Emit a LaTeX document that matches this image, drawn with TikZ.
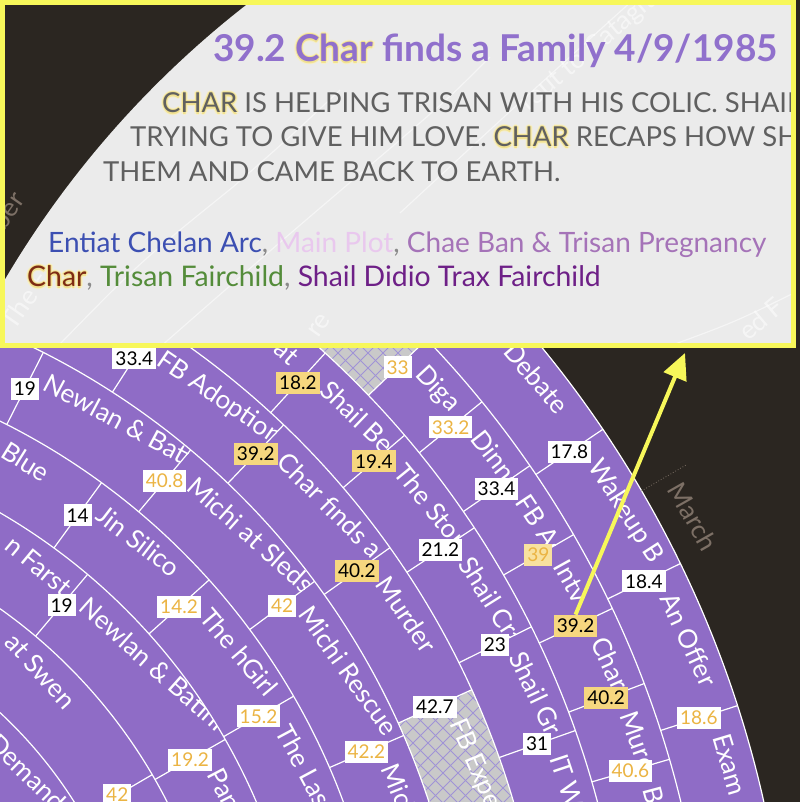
\documentclass[tikz,border=0pt]{standalone}
\usepackage{fontspec}
\setmainfont{Lato}
\usetikzlibrary{arrows.meta}
\definecolor{darkbg}{HTML}{2B2621}
\definecolor{chartpurple}{HTML}{8F6CC6}
\definecolor{hatchgray}{HTML}{C9C9C9}
\definecolor{hatchline}{HTML}{A093D6}
\definecolor{numorange}{HTML}{EBB443}
\definecolor{numyellow}{HTML}{F6D77F}
\definecolor{tipyellow}{HTML}{F7F75A}
\definecolor{tipbg}{HTML}{EBEBEB}
\definecolor{titlepurple}{HTML}{9070CC}
\definecolor{bodygray}{HTML}{606060}
\definecolor{legA}{HTML}{3C4FB2}
\definecolor{legB}{HTML}{E9C8EE}
\definecolor{legC}{HTML}{A573B8}
\definecolor{legD}{HTML}{7E2C14}
\definecolor{legE}{HTML}{548C3A}
\definecolor{legF}{HTML}{6E2087}
\definecolor{commagray}{HTML}{8A8A8A}
\definecolor{glowin}{HTML}{F1E190}
\definecolor{glowout}{HTML}{F6EFCB}
\definecolor{monthgray}{HTML}{7D7066}
\newcommand{\gl}[4]{\makebox[0pt][l]{\kern#1\raisebox{#2}{\textcolor{#3}{#4}}}}
\newcommand{\glowword}[2]{%
\gl{2.2pt}{0pt}{glowout}{#2}\gl{-2.2pt}{0pt}{glowout}{#2}\gl{0pt}{2.2pt}{glowout}{#2}\gl{0pt}{-2.2pt}{glowout}{#2}%
\gl{1.6pt}{1.6pt}{glowout}{#2}\gl{-1.6pt}{1.6pt}{glowout}{#2}\gl{1.6pt}{-1.6pt}{glowout}{#2}\gl{-1.6pt}{-1.6pt}{glowout}{#2}%
\gl{1.1pt}{0pt}{glowin}{#2}\gl{-1.1pt}{0pt}{glowin}{#2}\gl{0pt}{1.1pt}{glowin}{#2}\gl{0pt}{-1.1pt}{glowin}{#2}%
\textcolor{#1}{#2}}
\tikzset{
 ringline/.style={white,line width=1.2pt},
 sepline/.style={white,line width=1.2pt},
 evtext/.style={text=white,font=\fontsize{26}{26}\selectfont,inner sep=0pt},
 numbox/.style={font=\fontsize{19}{19}\selectfont,inner xsep=3pt,inner ysep=0pt,minimum height=22pt,text height=13.5pt,text depth=0pt},
 nbw/.style={numbox,fill=white,text=black},
 nbo/.style={numbox,fill=white,text=numorange},
 nby/.style={numbox,fill=numyellow,text=black},
 nbyo/.style={numbox,fill=numyellow!75!white,text=numorange},
 hatchl/.style={hatchline,line width=0.8pt},
 tiptext/.style={inner sep=0pt,anchor=base west},
 faintline/.style={white,opacity=0.5,line width=1.2pt},
 fainttext/.style={text=white,text opacity=0.55,font=\fontsize{26}{26}\selectfont,inner sep=0pt}
}
\newcommand{\evt}[7]{%
 \begin{scope}
 \clip (#3:#1) -- (#3:#2) arc[start angle=#3,end angle=#4,radius=#2] -- (#4:#1) arc[start angle=#4,end angle=#3,radius=#1] -- cycle;
 \pgfmathsetmacro\evr{(#1+#2)/2+7}
 \pgfmathsetmacro\eva{#3-#5/\evr*57.2958}
 \node[evtext,rotate=\eva-90,anchor=base west] (#7) at (\eva:\evr) {#6};
 \end{scope}}
\newcommand{\sepr}[3]{\draw[sepline] (#1:#2) -- (#1:#3);}
\newcommand{\sector}[4]{(#3:#1) -- (#3:#2) arc[start angle=#3,end angle=#4,radius=#2] -- (#4:#1) arc[start angle=#4,end angle=#3,radius=#1] -- cycle}
\begin{document}
\begin{tikzpicture}[x=1pt,y=1pt]
\useasboundingbox (0,0) rectangle (800,802);
\clip (0,0) rectangle (800,802);
\fill[darkbg] (0,0) rectangle (800,802);
\begin{scope}[shift={(-307,-241)}]
 \fill[chartpurple] (0,0) circle[radius=1097.4];
 % hatched segments
 \begin{scope}
  \clip \sector{935.8}{1016.6}{62}{43.8};
  \fill[hatchgray] (-100,-100) rectangle (1200,1200);
  \foreach \i in {-1500,-1485,...,1500} {\draw[hatchl] (\i,0) -- ++(1500,1500); \draw[hatchl] (\i,1500) -- ++(1500,-1500);}
 \end{scope}
 \begin{scope}
  \clip \sector{774.2}{855.0}{24.4}{8};
  \fill[hatchgray] (-100,-100) rectangle (1200,1200);
  \foreach \i in {-1500,-1485,...,1500} {\draw[hatchl] (\i,0) -- ++(1500,1500); \draw[hatchl] (\i,1500) -- ++(1500,-1500);}
 \end{scope}
 % ring lines
 \foreach \r in {1097.4,1016.6,935.8,855.0,774.2,693.4,612.6,531.8,451.0,370.2} \draw[ringline] (0,0) circle[radius=\r];
 % separators
 \sepr{34.0}{1016.6}{1097.4}\sepr{25.9}{1016.6}{1097.4}\sepr{17.9}{1016.6}{1097.4}
 \sepr{43.8}{935.8}{1016.6}\sepr{39.1}{935.8}{1016.6}\sepr{34.6}{935.8}{1016.6}\sepr{30.0}{935.8}{1016.6}\sepr{25.3}{935.8}{1016.6}\sepr{20.7}{935.8}{1016.6}\sepr{16.2}{935.8}{1016.6}
 \sepr{47.5}{855.0}{935.8}\sepr{40.5}{855.0}{935.8}\sepr{33.4}{855.0}{935.8}\sepr{26.4}{855.0}{935.8}\sepr{19.5}{855.0}{935.8}
 \sepr{57.2}{774.2}{855.0}\sepr{46.3}{774.2}{855.0}\sepr{35.4}{774.2}{855.0}\sepr{24.4}{774.2}{855.0}
 \sepr{63.1}{693.4}{774.2}\sepr{50.0}{693.4}{774.2}\sepr{36.6}{693.4}{774.2}\sepr{23.4}{693.4}{774.2}
 \sepr{53.9}{612.6}{693.4}\sepr{41.9}{612.6}{693.4}\sepr{30.0}{612.6}{693.4}
 \sepr{49.9}{531.8}{612.6}\sepr{29.7}{531.8}{612.6}
 \sepr{30.3}{451.0}{531.8}
 % event texts ring 1
 \node[evtext,rotate=40.5-90,anchor=base west] (tdebate) at (40.5:1064) {Debate};
 \evt{1016.6}{1097.4}{34.0}{25.9}{22}{Wakeup B}{twake}
 \evt{1016.6}{1097.4}{25.9}{17.9}{22}{An Offer}{toffer}
 \evt{1016.6}{1097.4}{17.9}{5}{22}{Exam}{texam}
 % ring 2
 \evt{935.8}{1016.6}{43.8}{39.1}{17}{Diga}{tdiga}
 \evt{935.8}{1016.6}{39.1}{34.6}{21}{Dinne}{tdinn}
 \evt{935.8}{1016.6}{34.6}{30.0}{21}{FB Ad}{tfba}
 \evt{935.8}{1016.6}{30.0}{25.3}{17}{Intv}{tintv}
 \evt{935.8}{1016.6}{25.3}{20.7}{21}{Char fi}{tchar}
 \evt{935.8}{1016.6}{20.7}{16.2}{21}{Murd}{tmur}
 \evt{935.8}{1016.6}{16.2}{5}{21}{B}{tb}
 % ring 3
 \node[evtext,rotate=48.6-90,anchor=base east] (tat) at (48.6:902) {at};
 \evt{855.0}{935.8}{47.5}{40.5}{21}{Shail Bea}{tshailbe}
 \evt{855.0}{935.8}{40.5}{33.4}{21}{The Stor}{tsto}
 \evt{855.0}{935.8}{33.4}{26.4}{21}{Shail Cra}{tshailcr}
 \evt{855.0}{935.8}{26.4}{19.5}{17}{Shail Gr}{tshailg}
 \evt{855.0}{935.8}{19.5}{5}{17}{IT Wo}{titw}
 % ring 4
 \evt{774.2}{855.0}{57.2}{46.3}{21}{FB Adoption}{tfbadopt}
 \evt{774.2}{855.0}{46.3}{35.4}{21}{Char finds a F}{tcharfinds}
 \evt{774.2}{855.0}{35.4}{24.4}{21}{Murder}{tmurder}
 \evt{774.2}{855.0}{24.4}{8}{21}{FB Expe}{tfbexpe}
 % ring 5
 \evt{693.4}{774.2}{63.1}{50.0}{15}{Newlan \& Bati}{tnewlan}
 \evt{693.4}{774.2}{50.0}{36.6}{21}{Michi at Sleds}{tsleds}
 \evt{693.4}{774.2}{36.6}{23.4}{16}{Michi Rescue}{trescue}
 \evt{693.4}{774.2}{23.4}{8}{21}{Michi}{tmichi}
 % ring 6
 \node[evtext,rotate=58.0-90,anchor=base east] (tblue) at (58.0:660) {Blue};
 \evt{612.6}{693.4}{53.9}{41.9}{15}{Jin Silico}{tjin}
 \evt{612.6}{693.4}{41.9}{30.0}{21}{The hGirl}{thgirl}
 \evt{612.6}{693.4}{30.0}{10}{21}{The Last}{tlast}
 % ring 7
 \node[evtext,rotate=50.3-90,anchor=base east] (tfarst) at (50.3:579) {n Farst};
 \evt{531.8}{612.6}{49.9}{29.7}{15}{Newlan \& Batini}{tnewlan2}
 \evt{531.8}{612.6}{29.7}{10}{21}{Pan}{tpan}
 % ring 8
 \node[evtext,rotate=41.8-90,anchor=base east] (tswen) at (41.8:498) {at Swen};
 % ring 9
 \node[evtext,rotate=45.5-90,anchor=base west] (tdemand) at (45.5:418) {Demand};
 % number boxes
 \node[nbw] (n178) at (34.0:1057.0) {17.8};
 \node[nbw] (n184) at (25.9:1057.0) {18.4};
 \node[nbo] (n186) at (17.9:1057.0) {18.6};
 \node[nbo] (n33) at (43.8:976.2) {33};
 \node[nbo] (n332) at (39.1:976.2) {33.2};
 \node[nbw] (n334a) at (34.6:976.2) {33.4};
 \node[nbyo] (n39) at (30.0:976.2) {39};
 \node[nby] (n392a) at (25.3:976.2) {39.2};
 \node[nby] (n402a) at (20.7:976.2) {40.2};
 \node[nbo] (n406) at (16.2:976.2) {40.6};
 \node[nby] (n182) at (47.5:895.4) {18.2};
 \node[nby] (n194) at (40.5:895.4) {19.4};
 \node[nbw] (n212) at (33.4:895.4) {21.2};
 \node[nbw] (n23) at (26.4:895.4) {23};
 \node[nbw] (n31) at (19.5:895.4) {31};
 \node[nbw] (n334b) at (57.2:814.6) {33.4};
 \node[nby] (n392b) at (46.3:814.6) {39.2};
 \node[nby] (n402b) at (35.4:814.6) {40.2};
 \node[nbw] (n427) at (24.4:814.6) {42.7};
 \node[nbw] (n19a) at (63.1:733.8) {19};
 \node[nbo] (n408) at (50.0:733.8) {40.8};
 \node[nbo] (n42a) at (36.6:733.8) {42};
 \node[nbo] (n422) at (23.4:733.8) {42.2};
 \node[nbw] (n14) at (53.9:653.0) {14};
 \node[nbo] (n142) at (41.9:653.0) {14.2};
 \node[nbo] (n152) at (30.0:653.0) {15.2};
 \node[nbw] (n19b) at (49.9:572.2) {19};
 \node[nbo] (n192) at (29.7:572.2) {19.2};
 \node[nbo] (n42b) at (30.3:491.4) {42};
 % month
 \draw[monthgray,line width=0.8pt,dotted] (30.2:1097.4) -- (30.2:1150);
 \node[text=monthgray,font=\fontsize{26}{26}\selectfont,inner sep=0pt,rotate=29.6-90,anchor=base west] (march) at (29.6:1120) {March};
\end{scope}
% arrow
\coordinate (tip) at (685,449);
\draw[tipyellow,line width=4pt,-{Triangle[length=26pt,width=24pt]}] (n392a.north) -- (tip);
% tooltip
\begin{scope}
 \clip (2.5,456.5) rectangle (793.5,799.5);
 \fill[darkbg] (0,450) rectangle (800,802);
 \fill[tipbg] (846,27) circle[radius=976];
 % faint background traces
 \draw[faintline] (57,455) .. controls (140,540) .. (233,615) .. controls (290,665) .. (340,712);
 \draw[faintline] (160,455) .. controls (280,560) .. (400,662) .. controls (450,705) .. (490,745);
 \draw[faintline] (400,589) .. controls (520,700) .. (633,802);
 \draw[faintline] (667,455) .. controls (735,480) .. (800,512);
 \node[text=monthgray,font=\fontsize{26}{26}\selectfont,inner sep=0pt,rotate=55,anchor=base east] (fber) at (26,602) {ber};
 \node[fainttext,rotate=55,anchor=base west] (fthe) at (14,470) {The E};
 \node[fainttext,rotate=55,anchor=base west] (fre) at (318,463) {re};
 \node[fainttext,rotate=40,anchor=base west] (fcat) at (528,690) {rout to Catagra};
 \node[fainttext,rotate=40,anchor=base west] (fedf) at (748,460) {ed F};
 % tooltip texts
 \node[tiptext,font=\bfseries\fontsize{37}{37}\selectfont,text=titlepurple] (title) at (213,740) {39.2 \glowword{titlepurple}{Char} finds a Family 4/9/1985};
 \node[tiptext,font=\fontsize{27.5}{27.5}\selectfont,text=bodygray] (body1) at (162,689) {\glowword{bodygray}{CHAR} IS HELPING TRISAN WITH HIS COLIC. SHAIL IS};
 \node[tiptext,font=\fontsize{27.5}{27.5}\selectfont,text=bodygray] (body2) at (130,655) {TRYING TO GIVE HIM LOVE. \glowword{bodygray}{CHAR} RECAPS HOW SHE};
 \node[tiptext,font=\fontsize{27.5}{27.5}\selectfont,text=bodygray] (body3) at (103,620) {THEM AND CAME BACK TO EARTH.};
 \node[tiptext,font=\fontsize{28}{28}\selectfont] (leg1) at (48,549) {\textcolor{legA}{Entiat Chelan Arc}\textcolor{commagray}{,} \textcolor{legB}{Main Plot}\textcolor{commagray}{,} \textcolor{legC}{Chae Ban \& Trisan Pregnancy}};
 \node[tiptext,font=\fontsize{28.4}{28.4}\selectfont] (leg2) at (27,515) {\glowword{legD}{Char}\textcolor{commagray}{,} \textcolor{legE}{Trisan Fairchild}\textcolor{commagray}{,} \textcolor{legF}{Shail Didio Trax Fairchild}};
\end{scope}
\draw[tipyellow,line width=5pt] (2.5,456.5) rectangle (793.5,799.5);
\end{tikzpicture}
\end{document}
